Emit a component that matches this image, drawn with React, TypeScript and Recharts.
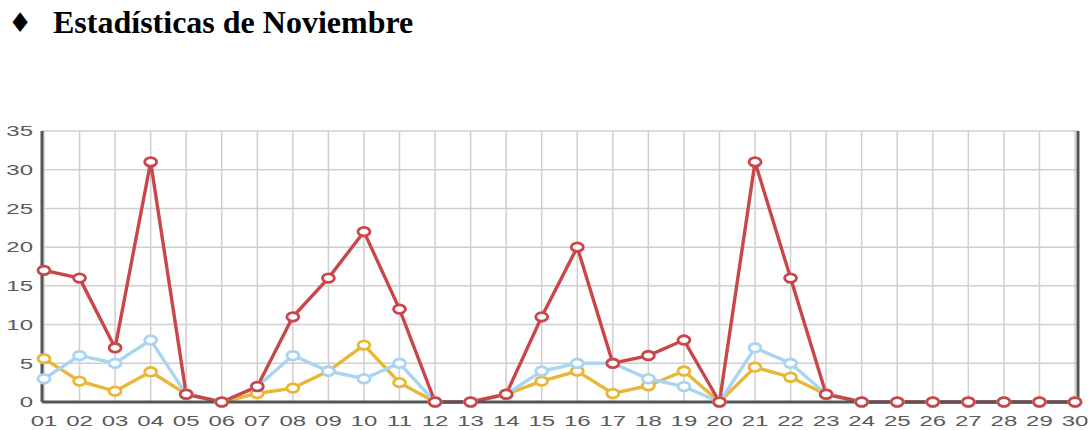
import React from "react";
import { LineChart, Line, XAxis, YAxis, CartesianGrid } from "recharts";

const days = ["01","02","03","04","05","06","07","08","09","10","11","12","13","14","15","16","17","18","19","20","21","22","23","24","25","26","27","28","29","30"];
const redSeries = [17,16,7,31,1,0,2,11,16,22,12,0,0,1,11,20,5,6,8,0,31,16,1,0,0,0,0,0,0,0];
const blueSeries = [3,6,5,8,1,0,2,6,4,3,5,0,0,1,4,5,5,3,2,0,7,5,1,0,0,0,0,0,0,0];
const yellowSeries = [5.6,2.7,1.4,3.9,1,0,1.1,1.8,4,7.35,2.5,0,0,1,2.7,4,1.1,2.1,4,0,4.5,3.2,1,0,0,0,0,0,0,0];
const yTicks = [0,5,10,15,20,25,30,35];

const data = days.map((d, i) => ({ day: d, red: redSeries[i], blue: blueSeries[i], yellow: yellowSeries[i] }));

const RED = "#c9474b";
const BLUE = "#a9d4f2";
const YELLOW = "#e8b737";

const XTick = (props: any) => {
  const { x, y, payload } = props;
  return (
    <text transform={`translate(${x},${y + 11}) scale(1.6,1)`} textAnchor="middle" dy="0.35em"
      fontFamily="Liberation Sans, Arial, sans-serif" fontSize={15} fill="#5a5a5a">
      {payload.value}
    </text>
  );
};

const YTick = (props: any) => {
  const { x, y, payload } = props;
  return (
    <text transform={`translate(${x - 1},${y}) scale(1.6,1)`} textAnchor="end" dy="0.35em"
      fontFamily="Liberation Sans, Arial, sans-serif" fontSize={15} fill="#5a5a5a">
      {payload.value}
    </text>
  );
};

const makeDot = (color: string) => (props: any) => {
  const { cx, cy, index } = props;
  if (cx == null || cy == null) return <g key={index} />;
  return <ellipse key={index} cx={cx} cy={cy} rx={6} ry={4.3} fill="#fff" stroke={color} strokeWidth={2.8} />;
};

export default function App() {
  return (
    <div style={{ position: "absolute", left: 0, top: 0, width: 1091, height: 430, background: "#fff" }}>
      <div style={{ position: "absolute", left: 8, top: 8, fontFamily: "DejaVu Sans", fontSize: 27, lineHeight: "30px", color: "#000" }}>♦</div>
      <div style={{ position: "absolute", left: 53, top: 6, fontFamily: "Liberation Serif, 'Times New Roman', serif", fontWeight: "bold", fontSize: 32, lineHeight: "32px", color: "#000", whiteSpace: "nowrap" }}>
        Estadísticas de Noviembre
      </div>
      <div style={{ position: "absolute", left: 0, top: 0 }}>
        <LineChart width={1091} height={430} data={data} margin={{ top: 131, right: 0, left: 0, bottom: 0 }}>
          <CartesianGrid xAxisId="b" yAxisId="l" stroke="#cfcfcf" strokeWidth={1.5} />
          <XAxis xAxisId="b" dataKey="day" height={28} padding={{ left: 2, right: 3 }} interval={0}
            tickLine={false} axisLine={{ stroke: "#555", strokeWidth: 3 }} tick={<XTick />} />
          <XAxis xAxisId="t" dataKey="day" orientation="top" height={0} padding={{ left: 2, right: 3 }}
            tick={false} tickLine={false} axisLine={{ stroke: "#777", strokeWidth: 2 }} />
          <YAxis yAxisId="l" width={42} domain={[0, 35]} ticks={yTicks} interval={0}
            tickLine={false} axisLine={{ stroke: "#555", strokeWidth: 3 }} tick={<YTick />} />
          <YAxis yAxisId="r" orientation="right" width={13} domain={[0, 35]} ticks={yTicks}
            tick={false} tickLine={false} axisLine={{ stroke: "#555", strokeWidth: 3 }} />
          <Line xAxisId="b" yAxisId="l" type="linear" dataKey="yellow" stroke={YELLOW} strokeWidth={3.4}
            dot={makeDot(YELLOW)} activeDot={false} isAnimationActive={false} />
          <Line xAxisId="b" yAxisId="l" type="linear" dataKey="blue" stroke={BLUE} strokeWidth={3.4}
            dot={makeDot(BLUE)} activeDot={false} isAnimationActive={false} />
          <Line xAxisId="b" yAxisId="l" type="linear" dataKey="red" stroke={RED} strokeWidth={3.4}
            dot={makeDot(RED)} activeDot={false} isAnimationActive={false} />
        </LineChart>
      </div>
    </div>
  );
}
